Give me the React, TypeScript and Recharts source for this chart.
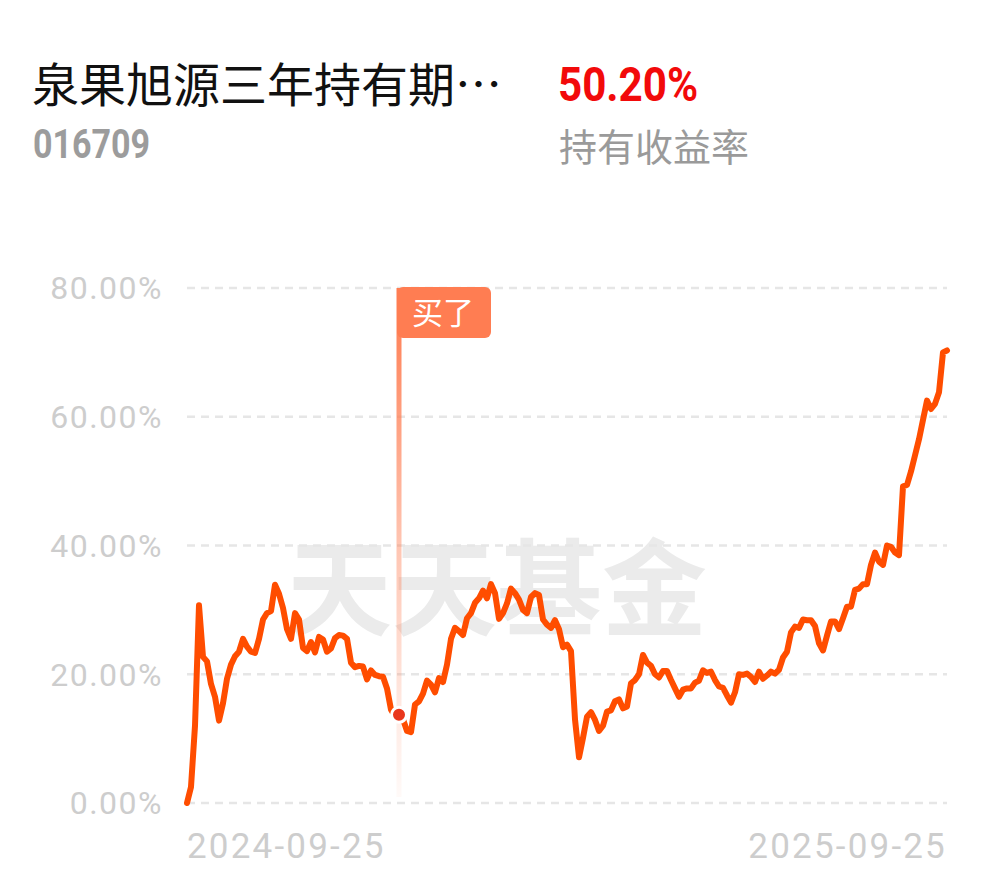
import React from "react";
import {
  CartesianGrid,
  Line,
  LineChart,
  ReferenceDot,
  ReferenceLine,
  XAxis,
  YAxis,
} from "recharts";

// holding return (%), left to right
const returns = [
  0, 2.5, 12, 30.7, 22.7, 22.0, 18.5, 16.5, 12.8, 15.5,
  19.3, 21.5, 22.8, 23.5, 25.5, 24.3, 23.5, 23.3, 25.5, 28.5,
  29.5, 29.8, 33.9, 32.5, 30.3, 27.0, 25.5, 29.5, 28.5, 24.1,
  23.6, 25.0, 23.4, 25.8, 25.4, 23.5, 24.0, 25.6, 26.1, 26.0,
  25.5, 21.8, 21.1, 21.3, 21.2, 19.2, 20.6, 19.9, 19.7, 19.6,
  17.8, 14.5, 13.5, 13.7, 13.0, 11.2, 11.0, 15.3, 15.8, 17.0,
  19.0, 18.4, 17.2, 19.4, 18.8, 21.5, 25.5, 27.2, 26.7, 26.1,
  28.7, 29.5, 31.1, 31.8, 33.0, 31.8, 34.0, 32.6, 28.6, 29.5,
  31.0, 33.3, 32.6, 31.6, 30.0, 29.5, 32.0, 32.6, 32.3, 28.5,
  27.7, 27.2, 28.4, 27.0, 24.2, 24.6, 23.6, 13.0, 7.1, 10.1,
  13.4, 14.1, 12.9, 11.2, 12.0, 14.2, 14.4, 15.8, 16.1, 14.7,
  15.0, 18.6, 19.1, 20.0, 23.0, 21.8, 21.3, 20.0, 19.5, 20.5,
  20.5, 19.1, 17.8, 16.5, 17.6, 17.8, 17.8, 18.7, 19.0, 20.6,
  20.2, 20.4, 19.1, 18.1, 17.9, 16.7, 15.6, 17.2, 20.0, 19.9,
  20.1, 19.6, 18.8, 20.4, 19.3, 19.8, 20.4, 20.1, 20.7, 22.6,
  23.5, 26.5, 27.4, 27.2, 28.5, 28.4, 28.4, 27.5, 24.8, 23.7,
  26.0, 28.2, 28.2, 27.0, 28.7, 30.5, 30.5, 33.1, 33.3, 34.0,
  34.0, 37.0, 38.9, 37.5, 37.0, 40.0, 39.8, 38.9, 38.5, 49.2,
  49.4, 51.5, 54.0, 56.5, 59.5, 62.5, 61.2, 62.0, 63.8, 70.0, 70.3,
];
const yTicks = [0, 20, 40, 60, 80];
const dateLabels = ["2024-09-25", "2025-09-25"];
const buyIndex = 53;
const buyLabel = "买了";

const fundName = "泉果旭源三年持有期…";
const fundCode = "016709";
const holdReturn = "50.20%";
const holdReturnLabel = "持有收益率";

const data = returns.map((v, i) => ({ i, v }));
const lastIndex = returns.length - 1;

const LINE_COLOR = "#ff4d00";
const BUY_COLOR = "#ff7d52";
const AXIS_TEXT = "#cdcdcd";
const NUM_FONT = "Roboto, sans-serif";
const CJK_FONT = "'Noto Sans CJK SC', sans-serif";

function XTick(props: any) {
  const { x, y, payload } = props;
  const first = payload.value === 0;
  return (
    <text
      x={x}
      y={y + 55}
      textAnchor={first ? "start" : "end"}
      fill={AXIS_TEXT}
      fontSize={35}
      fontFamily={NUM_FONT}
      letterSpacing={2.2}
    >
      {first ? dateLabels[0] : dateLabels[1]}
    </text>
  );
}

function BuyMarker(props: any) {
  const { x1, y1, y2 } = props;
  const top = Math.min(y1, y2);
  const bottom = Math.max(y1, y2);
  return (
    <g>
      <rect x={x1 - 2.5} y={top} width={5} height={bottom - top - 6} fill="url(#buyFade)" />
      <rect x={x1 - 2} y={top - 1} width={94} height={51} rx={6} fill={BUY_COLOR} />
      <text
        x={x1 + 44}
        y={top + 36}
        textAnchor="middle"
        fill="#fff"
        fontSize={31}
        fontFamily={CJK_FONT}
      >
        {buyLabel}
      </text>
    </g>
  );
}

export default function App() {
  return (
    <div
      style={{
        position: "absolute",
        left: 0,
        top: 0,
        width: 990,
        height: 878,
        background: "#fff",
        overflow: "hidden",
      }}
    >
      <div
        style={{
          position: "absolute",
          left: 32,
          top: 54,
          fontSize: 47,
          lineHeight: "56px",
          fontFamily: CJK_FONT,
          color: "#111",
          whiteSpace: "nowrap",
        }}
      >
        {fundName}
      </div>
      <div
        style={{
          position: "absolute",
          left: 33,
          top: 121,
          fontSize: 41,
          lineHeight: "46px",
          fontFamily: NUM_FONT,
          fontWeight: 700,
          color: "#9c9c9c",
          transform: "scaleX(0.83)",
          transformOrigin: "left top",
          whiteSpace: "nowrap",
        }}
      >
        {fundCode}
      </div>
      <div
        style={{
          position: "absolute",
          left: 558,
          top: 57,
          fontSize: 49,
          lineHeight: "56px",
          fontFamily: NUM_FONT,
          fontWeight: 700,
          color: "#f20a0a",
          transform: "scaleX(0.86)",
          transformOrigin: "left top",
          whiteSpace: "nowrap",
        }}
      >
        {holdReturn}
      </div>
      <div
        style={{
          position: "absolute",
          left: 559,
          top: 123,
          fontSize: 38,
          lineHeight: "44px",
          fontFamily: CJK_FONT,
          color: "#9a9a9a",
          whiteSpace: "nowrap",
        }}
      >
        {holdReturnLabel}
      </div>
      <div
        style={{
          position: "absolute",
          left: 287,
          top: 521,
          fontSize: 105,
          lineHeight: "120px",
          fontFamily: CJK_FONT,
          fontWeight: 700,
          color: "#ebebeb",
          whiteSpace: "nowrap",
        }}
      >
        天天基金
      </div>
      <div style={{ position: "absolute", left: 0, top: 0 }}>
        <LineChart
          width={990}
          height={878}
          data={data}
          margin={{ top: 288, right: 43, bottom: 15, left: 0 }}
        >
          <defs>
            <linearGradient id="buyFade" x1="0" y1="0" x2="0" y2="1">
              <stop offset="0%" stopColor={BUY_COLOR} stopOpacity={1} />
              <stop offset="12%" stopColor={BUY_COLOR} stopOpacity={0.9} />
              <stop offset="50%" stopColor={BUY_COLOR} stopOpacity={0.45} />
              <stop offset="82%" stopColor={BUY_COLOR} stopOpacity={0.17} />
              <stop offset="100%" stopColor={BUY_COLOR} stopOpacity={0.04} />
            </linearGradient>
          </defs>
          <CartesianGrid
            vertical={false}
            stroke="#e6e6e6"
            strokeWidth={2.5}
            strokeDasharray="8 6"
          />
          <XAxis
            dataKey="i"
            ticks={[0, lastIndex]}
            interval={0}
            height={60}
            axisLine={false}
            tickLine={false}
            tickSize={0}
            tickMargin={0}
            tick={<XTick />}
          />
          <YAxis
            domain={[0, 80]}
            ticks={yTicks}
            width={187}
            axisLine={false}
            tickLine={false}
            tickSize={0}
            tickMargin={24}
            tickFormatter={(v: number) => `${v.toFixed(2)}%`}
            tick={{ fill: AXIS_TEXT, fontSize: 32, fontFamily: NUM_FONT, letterSpacing: 1.5 }}
          />
          <ReferenceLine x={buyIndex} stroke="none" shape={<BuyMarker />} />
          <Line
            type="linear"
            dataKey="v"
            stroke={LINE_COLOR}
            strokeWidth={6}
            strokeLinejoin="round"
            strokeLinecap="round"
            dot={false}
            activeDot={false}
            isAnimationActive={false}
          />
          <ReferenceDot
            x={buyIndex}
            y={returns[buyIndex]}
            r={7.5}
            fill="#e9361c"
            stroke="#fff"
            strokeWidth={3}
          />
        </LineChart>
      </div>
    </div>
  );
}
